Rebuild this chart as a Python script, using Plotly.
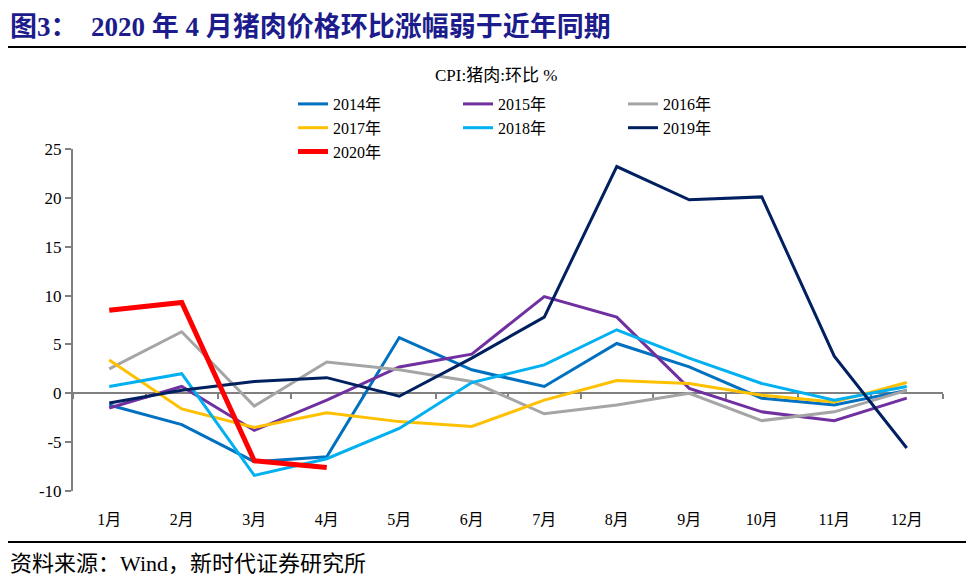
import plotly.graph_objects as go

months = ["1月", "2月", "3月", "4月", "5月", "6月", "7月", "8月", "9月", "10月", "11月", "12月"]

y2014 = [-1.2, -3.2, -7.0, -6.5, 5.7, 2.4, 0.7, 5.1, 2.7, -0.5, -1.2, 0.3]
y2015 = [-1.5, 0.7, -3.8, -0.7, 2.7, 4.0, 9.9, 7.8, 0.5, -1.9, -2.8, -0.5]
y2016 = [2.5, 6.3, -1.3, 3.2, 2.4, 1.2, -2.1, -1.2, 0.0, -2.8, -1.9, 0.3]
y2017 = [3.4, -1.6, -3.5, -2.0, -2.9, -3.4, -0.7, 1.3, 1.0, -0.2, -0.9, 1.1]
y2018 = [0.7, 2.0, -8.4, -6.7, -3.6, 1.1, 2.9, 6.5, 3.6, 1.0, -0.7, 0.7]
y2019 = [-1.0, 0.3, 1.2, 1.6, -0.3, 3.6, 7.8, 23.2, 19.8, 20.1, 3.8, -5.6]
y2020 = [8.5, 9.3, -6.9, -7.6]

yticks = [-10, -5, 0, 5, 10, 15, 20, 25]
ytick_labels = ["-10", "-5", "0", "5", "10", "15", "20", "25"]

series = [
    ("2014年", y2014, "#0070C0", 3, "legend"),
    ("2015年", y2015, "#7030A0", 3, "legend2"),
    ("2016年", y2016, "#A5A5A5", 3, "legend3"),
    ("2017年", y2017, "#FFC000", 3, "legend"),
    ("2018年", y2018, "#00B0F0", 3, "legend2"),
    ("2019年", y2019, "#002060", 3, "legend3"),
    ("2020年", y2020, "#FF0000", 5, "legend"),
]

SERIF = "Liberation Serif, Times New Roman, Noto Sans CJK SC, serif"

fig = go.Figure()
for name, vals, color, w, lg in series:
    fig.add_trace(go.Scatter(
        x=months[:len(vals)], y=vals, name=name, mode="lines",
        line=dict(color=color, width=w), legend=lg,
    ))

# page body has an 8px margin, so figure coordinates are screen - 8
W, H = 966, 575
L, R, T, B = 65, 31, 141, 92
pw, ph = W - L - R, H - T - B

def px_x(p):
    return (p - L) / pw

def px_y(p):
    return (H - B - p) / ph

legend_common = dict(
    font=dict(family=SERIF, size=16, color="#000000"),
    bgcolor="rgba(0,0,0,0)", orientation="v", tracegroupgap=0,
    xanchor="left", yanchor="top", itemwidth=30,
)

fig.update_layout(
    width=W, height=H,
    margin=dict(l=L, r=R, t=T, b=B),
    paper_bgcolor="white", plot_bgcolor="white",
    font=dict(family=SERIF, size=16, color="#000000"),
    title=dict(
        text="图3：  2020 年 4 月猪肉价格环比涨幅弱于近年同期",
        x=2 / W, xanchor="left", xref="container",
        y=1 - 19 / H, yanchor="middle", yref="container",
        font=dict(family=SERIF, size=27, color="#1C1C8C", weight="bold"),
    ),
    legend=dict(x=px_x(285), y=px_y(79), **legend_common),
    legend2=dict(x=px_x(450), y=px_y(79), **legend_common),
    legend3=dict(x=px_x(615), y=px_y(79), **legend_common),
    xaxis=dict(
        type="category", categoryorder="array", categoryarray=months,
        range=[-0.5, 11.5],
        anchor="free", position=10 / 35,
        showline=True, linecolor="#808080", linewidth=2,
        ticks="outside", tickson="boundaries", ticklen=5, tickwidth=2, tickcolor="#808080",
        ticklabelstandoff=112,
        tickfont=dict(family=SERIF, size=16, color="#000000"),
        showgrid=False, zeroline=False, layer="below traces",
    ),
    yaxis=dict(
        range=[-10, 25], tickmode="array", tickvals=yticks, ticktext=ytick_labels,
        showline=True, linecolor="#808080", linewidth=2,
        ticks="outside", ticklen=6, tickwidth=2, tickcolor="#808080",
        tickfont=dict(family=SERIF, size=17, color="#000000"),
        showgrid=False, zeroline=False, layer="below traces",
    ),
    showlegend=True,
)

fig.add_annotation(
    text="CPI:猪肉:环比 %", xref="paper", yref="paper",
    x=px_x(488), y=px_y(67), xanchor="center", yanchor="middle",
    showarrow=False, font=dict(family=SERIF, size=17, color="#000000"),
)
fig.add_annotation(
    text="资料来源：Wind，新时代证券研究所", xref="paper", yref="paper",
    x=px_x(0), y=px_y(555), xanchor="left", yanchor="middle",
    showarrow=False, font=dict(family=SERIF, size=22, color="#000000"),
)

fig.add_shape(type="line", xref="paper", yref="paper",
              x0=px_x(0), x1=px_x(W), y0=px_y(39), y1=px_y(39),
              line=dict(color="#000000", width=2))
fig.add_shape(type="line", xref="paper", yref="paper",
              x0=px_x(0), x1=px_x(W), y0=px_y(534), y1=px_y(534),
              line=dict(color="#000000", width=2))

fig.write_html("out.html")
